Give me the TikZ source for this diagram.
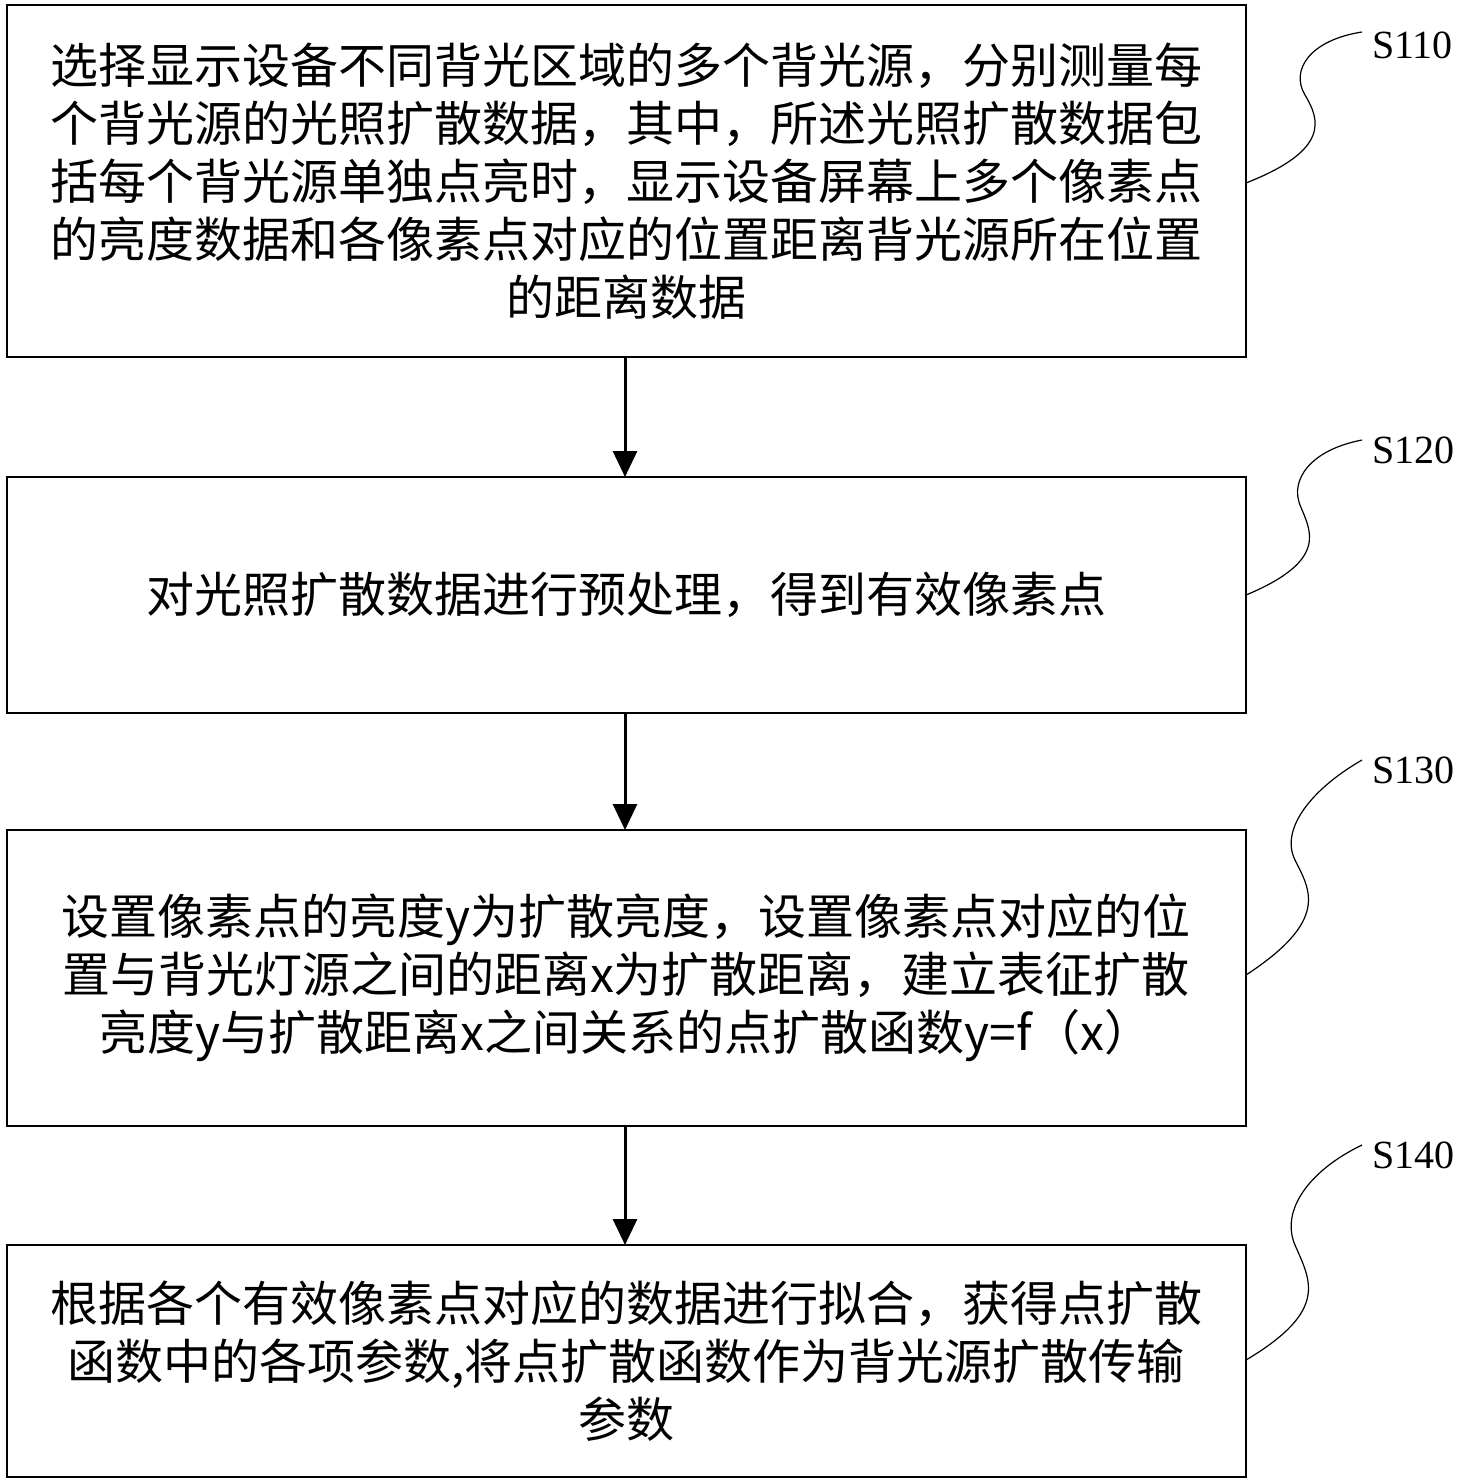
\documentclass[tikz,border=0pt]{standalone}
\usepackage{fontspec}
\usetikzlibrary{arrows.meta}
\setmainfont{Noto Sans CJK SC}
\newfontfamily\lbl{Liberation Serif}
\begin{document}
\begin{tikzpicture}[x=1pt,y=-1pt,
  box/.style={draw,line width=1.2pt},
  txt/.style={align=center,font=\fontsize{48}{58}\selectfont,inner sep=0pt},
  lab/.style={font=\lbl\fontsize{40}{40}\selectfont,anchor=west,inner sep=0pt},
  arr/.style={line width=3pt,-{Triangle[length=26pt,width=24pt]}},
  wave/.style={line width=1.2pt}]
\useasboundingbox (0,0) rectangle (1474,1483);
\draw[box] (7,5) rectangle (1246,357); \coordinate (b1t) at (625,5); \coordinate (b1b) at (625,357);
\draw[box] (7,477) rectangle (1246,713); \coordinate (b2t) at (625,477); \coordinate (b2b) at (625,713);
\draw[box] (7,830) rectangle (1246,1126); \coordinate (b3t) at (625,830); \coordinate (b3b) at (625,1126);
\draw[box] (7,1245) rectangle (1246,1477); \coordinate (b4t) at (625,1245);
\node[txt] (t1) at (626,181) {选择显示设备不同背光区域的多个背光源，分别测量每\\个背光源的光照扩散数据，其中，所述光照扩散数据包\\括每个背光源单独点亮时，显示设备屏幕上多个像素点\\的亮度数据和各像素点对应的位置距离背光源所在位置\\的距离数据};
\node[txt] (t2) at (626,595) {对光照扩散数据进行预处理，得到有效像素点};
\node[txt] (t3) at (626,978) {设置像素点的亮度y为扩散亮度，设置像素点对应的位\\置与背光灯源之间的距离x为扩散距离，建立表征扩散\\亮度y与扩散距离x之间关系的点扩散函数y=f（x）};
\node[txt] (t4) at (626,1361) {根据各个有效像素点对应的数据进行拟合，获得点扩散\\函数中的各项参数,将点扩散函数作为背光源扩散传输\\参数};
\draw[arr] (b1b) -- (b2t);
\draw[arr] (b2b) -- (b3t);
\draw[arr] (b3b) -- (b4t);
\node[lab] (l1) at (1372,45) {S110};
\node[lab] (l2) at (1372,450) {S120};
\node[lab] (l3) at (1372,770) {S130};
\node[lab] (l4) at (1372,1155) {S140};
\draw[wave] (1246,183) .. controls (1330,150) and (1320,120) .. (1305,95) .. controls (1290,70) and (1310,40) .. (1362,32);
\draw[wave] (1246,595) .. controls (1330,560) and (1310,530) .. (1300,505) .. controls (1290,480) and (1310,450) .. (1362,440);
\draw[wave] (1246,975) .. controls (1330,920) and (1310,890) .. (1295,860) .. controls (1280,830) and (1310,790) .. (1362,760);
\draw[wave] (1246,1360) .. controls (1330,1310) and (1310,1280) .. (1295,1245) .. controls (1280,1210) and (1310,1170) .. (1362,1145);
\end{tikzpicture}
\end{document}
